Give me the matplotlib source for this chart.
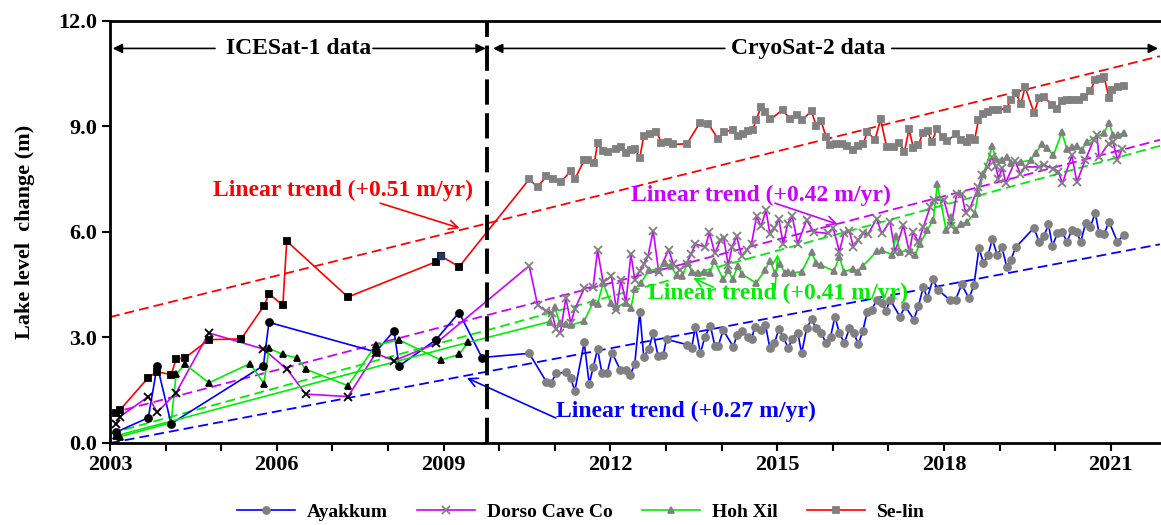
from matplotlib import pyplot as plt
from matplotlib.lines import Line2D
from matplotlib.ticker import MultipleLocator

plt.rcParams["font.family"] = ["Liberation Serif", "DejaVu Serif"]
plt.rcParams["font.weight"] = "bold"

# ICESat-1 period (decimal year, lake level change in m)
ayakkum_ice_yr = [2003.10, 2003.69, 2003.85, 2004.10, 2005.76, 2005.86, 2007.78, 2008.11,
                  2008.20, 2008.86, 2009.28, 2009.69]
ayakkum_ice_val = [0.30, 0.72, 2.20, 0.55, 2.20, 3.43, 2.59, 3.19, 2.19, 2.93, 3.71, 2.43]

dorso_ice_yr = [2003.10, 2003.18, 2003.69, 2003.85, 2004.19, 2004.78, 2005.76, 2006.19,
                2006.52, 2007.28, 2007.78, 2008.11, 2008.86]
dorso_ice_val = [0.53, 0.75, 1.32, 0.87, 1.43, 3.13, 2.67, 2.09, 1.39, 1.32, 2.55, 2.34, 2.83]

hohxil_ice_yr = [2003.10, 2003.18, 2004.10, 2004.19, 2004.35, 2004.78, 2005.52, 2005.77,
                 2005.86, 2006.11, 2006.36, 2006.52, 2007.28, 2007.78, 2008.20, 2008.95,
                 2009.28, 2009.44]
hohxil_ice_val = [0.20, 0.18, 0.58, 1.95, 2.24, 1.71, 2.26, 1.69, 2.69, 2.52, 2.42, 2.10,
                  1.63, 2.78, 2.93, 2.36, 2.52, 2.86]

selin_ice_yr = [2003.11, 2003.18, 2003.69, 2003.85, 2004.10, 2004.19, 2004.35, 2004.78,
                2005.36, 2005.77, 2005.86, 2006.11, 2006.18, 2007.28, 2008.86, 2008.95,
                2009.28]
selin_ice_val = [0.84, 0.94, 1.86, 2.03, 1.94, 2.39, 2.42, 2.94, 2.96, 3.90, 4.24, 3.92,
                 5.74, 4.15, 5.15, 5.32, 5.01]

# CryoSat-2 period
ayakkum_cs_yr = [2010.54, 2010.85, 2010.94, 2011.02, 2011.20, 2011.29, 2011.36, 2011.53,
                 2011.62, 2011.69, 2011.77, 2011.85, 2011.94, 2012.03, 2012.18, 2012.28,
                 2012.36, 2012.44, 2012.53, 2012.60, 2012.69, 2012.77, 2012.86, 2012.95,
                 2013.01, 2013.37, 2013.46, 2013.53, 2013.62, 2013.70, 2013.80, 2013.88,
                 2013.94, 2014.03, 2014.21, 2014.28, 2014.37, 2014.47, 2014.54, 2014.60,
                 2014.71, 2014.79, 2014.87, 2014.95, 2015.03, 2015.11, 2015.20, 2015.27,
                 2015.37, 2015.44, 2015.53, 2015.62, 2015.70, 2015.79, 2015.88, 2015.96,
                 2016.04, 2016.12, 2016.21, 2016.30, 2016.38, 2016.46, 2016.54, 2016.62,
                 2016.70, 2016.79, 2016.88, 2016.96, 2017.03, 2017.21, 2017.30, 2017.46,
                 2017.54, 2017.63, 2017.70, 2017.80, 2017.90, 2018.11, 2018.21, 2018.32,
                 2018.45, 2018.54, 2018.63, 2018.71, 2018.79, 2018.87, 2018.96, 2019.04,
                 2019.13, 2019.20, 2019.29, 2019.62, 2019.71, 2019.80, 2019.88, 2019.95,
                 2020.04, 2020.13, 2020.21, 2020.30, 2020.39, 2020.46, 2020.55, 2020.63,
                 2020.72, 2020.79, 2020.88, 2020.97, 2021.12, 2021.23]
ayakkum_cs_val = [2.55, 1.74, 1.71, 1.98, 2.01, 1.84, 1.48, 2.86, 1.67, 2.15, 2.67, 1.98,
                  1.98, 2.57, 2.07, 2.07, 1.93, 2.26, 3.73, 2.45, 2.67, 3.12, 2.47, 2.50,
                  2.95, 2.80, 2.69, 3.30, 2.55, 3.02, 3.33, 2.76, 2.76, 3.21, 2.74, 3.07,
                  3.18, 3.02, 2.97, 3.30, 3.21, 3.35, 2.69, 2.83, 3.24, 3.02, 2.69, 2.97,
                  3.14, 2.55, 3.26, 3.52, 3.26, 3.12, 2.85, 3.02, 3.59, 3.12, 2.85, 3.26,
                  3.12, 2.81, 3.18, 3.73, 3.78, 4.08, 3.97, 3.76, 4.08, 3.59, 3.89, 3.51,
                  3.89, 4.44, 4.11, 4.65, 4.35, 4.06, 4.08, 4.51, 4.11, 4.49, 5.55, 5.12,
                  5.34, 5.79, 5.34, 5.58, 5.01, 5.20, 5.56, 6.12, 5.72, 5.88, 6.22, 5.60,
                  5.96, 6.00, 5.72, 6.05, 6.00, 5.72, 6.26, 6.13, 6.54, 5.97, 5.94, 6.29,
                  5.72, 5.91]

dorso_cs_yr = [2010.54, 2010.69, 2010.85, 2010.95, 2011.02, 2011.10, 2011.20, 2011.29,
               2011.36, 2011.53, 2011.69, 2011.77, 2011.87, 2012.02, 2012.11, 2012.19,
               2012.28, 2012.37, 2012.44, 2012.53, 2012.60, 2012.68, 2012.77, 2012.87,
               2013.05, 2013.13, 2013.25, 2013.37, 2013.45, 2013.53, 2013.71, 2013.78,
               2013.88, 2013.98, 2014.04, 2014.12, 2014.19, 2014.27, 2014.36, 2014.45,
               2014.54, 2014.63, 2014.71, 2014.80, 2014.87, 2014.95, 2015.03, 2015.11,
               2015.19, 2015.27, 2015.37, 2015.53, 2015.66, 2015.92, 2016.01, 2016.12,
               2016.20, 2016.30, 2016.37, 2016.46, 2016.55, 2016.63, 2016.79, 2016.88,
               2017.03, 2017.12, 2017.27, 2017.38, 2017.44, 2017.54, 2017.63, 2017.75,
               2017.82, 2018.00, 2018.13, 2018.23, 2018.32, 2018.39, 2018.47, 2018.62,
               2018.69, 2018.79, 2018.86, 2018.93, 2018.98, 2019.05, 2019.11, 2019.28,
               2019.37, 2019.46, 2019.71, 2019.80, 2019.97, 2020.06, 2020.13, 2020.30,
               2020.39, 2020.54, 2020.69, 2020.75, 2020.79, 2020.96, 2021.04, 2021.12,
               2021.21]
dorso_cs_val = [5.04, 3.93, 3.74, 3.70, 3.25, 3.12, 4.13, 3.40, 3.80, 4.40, 4.44, 5.48,
                4.57, 4.75, 3.78, 4.64, 4.00, 5.37, 4.64, 4.89, 5.08, 5.33, 6.04, 4.87,
                5.50, 5.10, 4.91, 5.10, 5.37, 5.65, 5.58, 5.99, 5.39, 5.77, 5.82, 5.06,
                5.58, 5.88, 5.32, 5.48, 5.67, 6.45, 6.16, 6.62, 5.94, 6.10, 6.36, 5.65,
                6.24, 6.45, 5.67, 6.34, 6.00, 5.96, 6.10, 5.44, 5.96, 6.02, 5.58, 5.77,
                5.97, 5.93, 6.38, 5.96, 6.29, 5.44, 6.19, 5.41, 6.00, 5.72, 6.15, 6.70,
                6.92, 6.90, 6.16, 7.09, 7.07, 6.55, 6.69, 7.28, 7.61, 7.85, 8.13, 7.87,
                7.52, 7.83, 7.40, 8.02, 7.66, 7.85, 7.85, 7.90, 7.80, 7.71, 7.38, 8.18,
                7.42, 8.04, 8.61, 8.75, 8.12, 8.51, 8.56, 8.06, 8.37]

hohxil_cs_yr = [2010.91, 2011.00, 2011.09, 2011.20, 2011.29, 2011.53, 2011.69, 2011.77,
                2011.87, 2012.01, 2012.11, 2012.28, 2012.37, 2012.44, 2012.55, 2012.69,
                2012.85, 2012.98, 2013.09, 2013.19, 2013.29, 2013.39, 2013.47, 2013.58,
                2013.69, 2013.79, 2013.87, 2014.03, 2014.12, 2014.20, 2014.29, 2014.37,
                2014.62, 2014.78, 2014.87, 2014.96, 2015.05, 2015.14, 2015.20, 2015.29,
                2015.44, 2015.62, 2015.70, 2015.79, 2016.02, 2016.12, 2016.20, 2016.37,
                2016.46, 2016.54, 2016.79, 2016.88, 2017.06, 2017.14, 2017.21, 2017.39,
                2017.48, 2017.57, 2017.70, 2017.81, 2017.88, 2018.04, 2018.12, 2018.21,
                2018.30, 2018.41, 2018.55, 2018.62, 2018.71, 2018.87, 2018.93, 2019.05,
                2019.13, 2019.21, 2019.38, 2019.56, 2019.65, 2019.76, 2019.85, 2019.97,
                2020.12, 2020.21, 2020.30, 2020.39, 2020.48, 2020.57, 2020.88, 2020.97,
                2021.04, 2021.13, 2021.23]
hohxil_cs_val = [3.45, 3.87, 3.40, 3.38, 3.35, 3.47, 4.00, 3.95, 4.55, 3.97, 3.87, 3.99,
                 3.84, 4.39, 4.55, 4.91, 4.93, 5.12, 5.03, 4.77, 4.74, 5.12, 4.87, 4.84,
                 4.87, 4.84, 5.18, 4.65, 4.91, 4.66, 5.03, 4.80, 4.55, 4.91, 5.18, 4.84,
                 5.08, 4.84, 4.87, 4.84, 4.87, 5.42, 5.12, 5.06, 4.89, 5.29, 4.87, 4.96,
                 4.87, 5.03, 5.45, 5.48, 5.36, 5.88, 5.44, 5.48, 5.36, 5.67, 6.05, 6.35,
                 7.36, 6.05, 6.43, 6.05, 6.22, 6.29, 6.51, 7.11, 7.66, 8.44, 8.09, 8.04,
                 8.13, 7.95, 7.99, 8.04, 8.25, 8.49, 8.40, 8.18, 8.84, 8.37, 8.42, 8.44,
                 8.34, 8.56, 8.82, 9.10, 8.75, 8.75, 8.82]

selin_cs_yr = [2010.54, 2010.69, 2010.85, 2010.97, 2011.11, 2011.29, 2011.36, 2011.53,
               2011.60, 2011.71, 2011.77, 2011.86, 2011.96, 2012.10, 2012.20, 2012.28,
               2012.37, 2012.44, 2012.53, 2012.60, 2012.71, 2012.83, 2012.92, 2013.03,
               2013.13, 2013.38, 2013.61, 2013.76, 2013.94, 2014.04, 2014.21, 2014.30,
               2014.39, 2014.48, 2014.56, 2014.62, 2014.71, 2014.79, 2014.88, 2015.10,
               2015.23, 2015.36, 2015.44, 2015.62, 2015.70, 2015.79, 2015.88, 2015.95,
               2016.06, 2016.16, 2016.25, 2016.36, 2016.46, 2016.55, 2016.62, 2016.76,
               2016.86, 2016.97, 2017.10, 2017.20, 2017.29, 2017.37, 2017.45, 2017.54,
               2017.62, 2017.71, 2017.78, 2017.87, 2017.98, 2018.05, 2018.22, 2018.30,
               2018.41, 2018.47, 2018.55, 2018.62, 2018.71, 2018.79, 2018.89, 2018.98,
               2019.13, 2019.20, 2019.30, 2019.38, 2019.46, 2019.62, 2019.71, 2019.80,
               2019.94, 2020.04, 2020.12, 2020.21, 2020.31, 2020.42, 2020.51, 2020.63,
               2020.72, 2020.81, 2020.88, 2020.97, 2021.03, 2021.13, 2021.23]
selin_cs_val = [7.50, 7.28, 7.59, 7.50, 7.42, 7.74, 7.50, 8.04, 8.06, 7.95, 8.53, 8.30,
                8.28, 8.35, 8.42, 8.26, 8.32, 8.37, 8.11, 8.73, 8.78, 8.85, 8.54, 8.56,
                8.49, 8.51, 9.11, 9.08, 8.64, 8.84, 8.91, 8.72, 8.80, 8.87, 8.91, 9.18,
                9.55, 9.41, 9.20, 9.48, 9.20, 9.34, 9.18, 9.44, 9.01, 9.16, 8.70, 8.47,
                8.49, 8.51, 8.44, 8.32, 8.44, 8.51, 8.84, 8.63, 9.20, 8.42, 8.42, 8.54,
                8.28, 8.92, 8.40, 8.47, 8.82, 8.86, 8.56, 8.92, 8.70, 8.59, 8.78, 8.61,
                8.55, 8.66, 8.61, 9.18, 9.36, 9.41, 9.46, 9.48, 9.51, 9.76, 9.95, 9.63,
                10.12, 9.39, 9.81, 9.84, 9.62, 9.51, 9.73, 9.74, 9.74, 9.74, 9.84, 10.00,
                10.33, 10.34, 10.41, 9.81, 10.05, 10.11, 10.15]

lake_names = ["Ayakkum", "Dorso Cave Co", "Hoh Xil", "Se-lin"]
trend_labels = ["Linear trend (+0.27 m/yr)", "Linear trend (+0.42 m/yr)",
                "Linear trend (+0.41 m/yr)", "Linear trend (+0.51 m/yr)"]
# fitted trend lines, value at start and end of the x range
trend_start = [0.00, 0.84, 0.27, 3.58]
trend_end = [5.65, 8.62, 8.45, 11.00]
year_ticks = [2003, 2006, 2009, 2012, 2015, 2018, 2021]

X_MIN, X_MAX = 2003, 2021.885
MISSION_SPLIT = 2009.79

BLUE = "#0000FF"
MAGENTA = "#CC00FF"
GREEN = "#00EE00"
RED = "#FF0000"
GREY = "#808080"


def plot_lake(ax, ice_yr, ice_val, cs_yr, cs_val, color, marker, ms):
    # one continuous line through both missions
    ax.plot(ice_yr + cs_yr, ice_val + cs_val, color=color, lw=1.2, zorder=3)
    ax.plot(ice_yr, ice_val, ls="none", marker=marker, ms=ms, color="black",
            mew=1.3, zorder=4)
    ax.plot(cs_yr, cs_val, ls="none", marker=marker, ms=ms, color=GREY,
            mew=1.3, zorder=4)


def arrow(ax, tail, head, color, style="->", lw=1.2, scale=16):
    ax.annotate("", xy=head, xytext=tail,
                arrowprops=dict(arrowstyle=style, color=color, lw=lw,
                                mutation_scale=scale, shrinkA=0, shrinkB=0))


def plot_lake_levels():
    fig = plt.figure(figsize=(11.61, 5.25), dpi=100)
    ax = fig.add_axes([0.0947, 0.1562, 0.9044, 0.8038])

    colors = [BLUE, MAGENTA, GREEN, RED]
    markers = ["o", "x", "^", "s"]
    sizes = [5, 5.5, 4.5, 5]

    # trend lines first so the data sits on top
    for s, e, c in zip(trend_start, trend_end, colors):
        ax.plot([X_MIN, X_MAX], [s, e], color=c, lw=1.3, dashes=(5.5, 2.8), zorder=2)

    plot_lake(ax, ayakkum_ice_yr, ayakkum_ice_val, ayakkum_cs_yr, ayakkum_cs_val,
              BLUE, "o", 5)
    plot_lake(ax, dorso_ice_yr, dorso_ice_val, dorso_cs_yr, dorso_cs_val,
              MAGENTA, "x", 5.5)
    plot_lake(ax, hohxil_ice_yr, hohxil_ice_val, hohxil_cs_yr, hohxil_cs_val,
              GREEN, "^", 4.5)
    # Hoh Xil link from the first ICESat shot to the last one
    ax.plot([hohxil_ice_yr[0], hohxil_ice_yr[-1]], [hohxil_ice_val[0], hohxil_ice_val[-1]],
            color=GREEN, lw=1.2, zorder=3)
    plot_lake(ax, selin_ice_yr, selin_ice_val, selin_cs_yr, selin_cs_val,
              RED, "s", 5)
    ax.plot(selin_ice_yr[-2], selin_ice_val[-2], marker="s", ms=5, color="#1F3864", zorder=5)

    # mission boundary
    ax.axvline(MISSION_SPLIT, color="black", lw=2.8, dashes=(6.5, 2.2), zorder=6)

    # mission spans along the top
    top = 11.22
    txt = dict(ha="center", va="center", fontsize=17, fontweight="bold")
    ax.text(2006.40, top, "ICESat-1 data", **txt)
    arrow(ax, (2004.89, top), (2003.05, top), "black", "-|>", 1.2, 14)
    arrow(ax, (2007.73, top), (2009.76, top), "black", "-|>", 1.2, 14)
    ax.text(2015.55, top, "CryoSat-2 data", **txt)
    arrow(ax, (2014.06, top), (2009.89, top), "black", "-|>", 1.2, 14)
    arrow(ax, (2017.06, top), (2021.85, top), "black", "-|>", 1.2, 14)

    # trend labels with pointers
    lab = dict(ha="center", va="center", fontsize=17, fontweight="bold")
    ax.text(2007.19, 7.19, trend_labels[3], color=RED, **lab)
    arrow(ax, (2007.86, 6.82), (2009.29, 6.11), RED)
    ax.text(2014.70, 7.05, trend_labels[1], color=MAGENTA, **lab)
    arrow(ax, (2014.96, 6.82), (2016.09, 6.22), MAGENTA)
    ax.text(2015.01, 4.26, trend_labels[2], color=GREEN, **lab)
    arrow(ax, (2013.85, 4.43), (2013.49, 4.69), GREEN)
    arrow(ax, (2014.96, 4.35), (2015.01, 5.37), GREEN)
    ax.text(2013.36, 0.91, trend_labels[0], color=BLUE, **lab)
    arrow(ax, (2011.02, 0.71), (2009.42, 1.85), BLUE)

    # axes
    ax.set_xlim(X_MIN, X_MAX)
    ax.set_ylim(0, 12)
    ax.set_xticks(year_ticks)
    ax.xaxis.set_minor_locator(MultipleLocator(1))
    ax.yaxis.set_major_locator(MultipleLocator(3))
    ax.yaxis.set_major_formatter(plt.FormatStrFormatter("%.1f"))
    ax.tick_params(axis="both", which="both", direction="out", length=6, width=1.5,
                   labelsize=16, pad=3)
    for lbl in ax.get_xticklabels() + ax.get_yticklabels():
        lbl.set_fontweight("bold")
    ax.spines["right"].set_visible(False)
    for side in ["left", "bottom", "top"]:
        ax.spines[side].set_linewidth(2)
    ax.set_ylabel("Lake level  change (m)", fontsize=16, fontweight="bold", labelpad=17)

    # legend below the plot
    handles = [Line2D([], [], color=c, lw=1.2, marker=m, ms=s, mfc=GREY, mec=GREY, mew=1.3)
               for c, m, s in zip(colors, markers, sizes)]
    fig.legend(handles, lake_names, loc="center", bbox_to_anchor=(0.50, 0.025),
               ncol=4, frameon=False, handlelength=3.0, handletextpad=0.6,
               columnspacing=1.5, prop=dict(weight="bold", size=14))

    fig.savefig("out.png", dpi=100)


if __name__ == "__main__":
    plot_lake_levels()
